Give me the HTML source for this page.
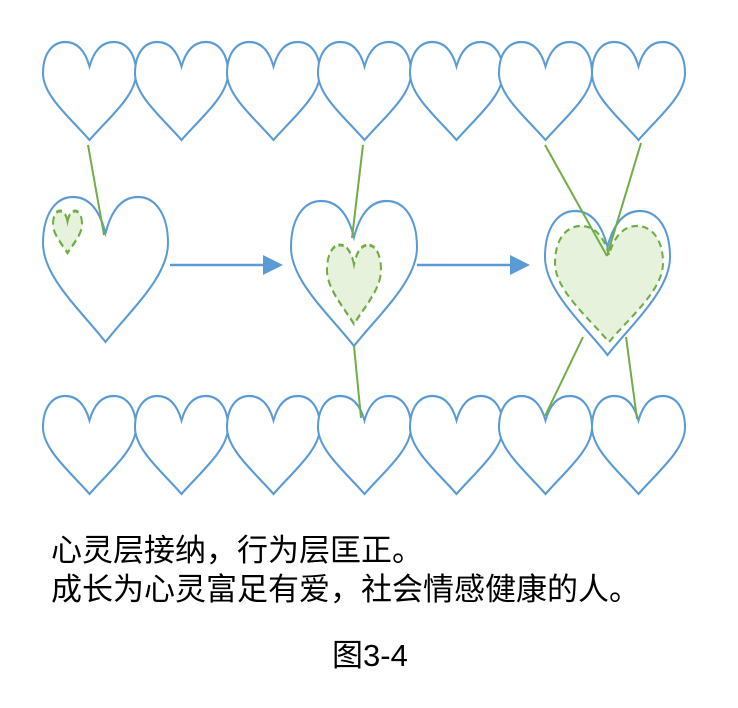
<!DOCTYPE html>
<html><head><meta charset="utf-8"><style>
body{margin:0;background:#fff;width:738px;height:708px;overflow:hidden;position:relative}
svg{position:absolute;left:0;top:0}
.t{position:absolute;font-family:"Liberation Sans","Noto Sans CJK SC",sans-serif;color:#000;white-space:nowrap;line-height:1}
</style></head><body>
<svg width="738" height="708" viewBox="0 0 738 708">
<defs>
<path id="h" d="M0.5,0.25 C0.45,0.08 0.36,0 0.24,0 C0.1,0 0,0.12 0,0.32 C0,0.55 0.3,0.78 0.5,1 C0.7,0.78 1,0.55 1,0.32 C1,0.12 0.9,0 0.76,0 C0.64,0 0.55,0.08 0.5,0.25 Z"/>
</defs>
<g fill="#fff" stroke="#5b9bd5">
<use href="#h" transform="translate(43,42) scale(93,98)" stroke-width="0.022"/>
<use href="#h" transform="translate(135,42) scale(93,98)" stroke-width="0.022"/>
<use href="#h" transform="translate(227,42) scale(93,98)" stroke-width="0.022"/>
<use href="#h" transform="translate(318,42) scale(93,98)" stroke-width="0.022"/>
<use href="#h" transform="translate(410,42) scale(93,98)" stroke-width="0.022"/>
<use href="#h" transform="translate(499,42) scale(93,98)" stroke-width="0.022"/>
<use href="#h" transform="translate(592,42) scale(93,98)" stroke-width="0.022"/>
<use href="#h" transform="translate(43,396) scale(93,98)" stroke-width="0.022"/>
<use href="#h" transform="translate(135,396) scale(93,98)" stroke-width="0.022"/>
<use href="#h" transform="translate(227,396) scale(93,98)" stroke-width="0.022"/>
<use href="#h" transform="translate(318,396) scale(93,98)" stroke-width="0.022"/>
<use href="#h" transform="translate(410,396) scale(93,98)" stroke-width="0.022"/>
<use href="#h" transform="translate(499,396) scale(93,98)" stroke-width="0.022"/>
<use href="#h" transform="translate(592,396) scale(93,98)" stroke-width="0.022"/>
<use href="#h" transform="translate(43,197) scale(125,145)" stroke-width="0.016"/>
<use href="#h" transform="translate(291,201) scale(126,145)" stroke-width="0.016"/>
<use href="#h" transform="translate(545,211) scale(125,144)" stroke-width="0.016"/>
</g>
<g fill="#e6f2dc" stroke="#70ad47" stroke-dasharray="0.1 0.06">
<use href="#h" transform="translate(53,211) scale(29,42)" stroke-width="0.07" stroke-dasharray="0.2 0.12"/>
<use href="#h" transform="translate(327,245) scale(54,79)" stroke-width="0.037"/>
<use href="#h" transform="translate(555,226) scale(108,116)" stroke-width="0.019" stroke-dasharray="0.06 0.04"/>
</g>
<g stroke="#70ad47" stroke-width="2">
<line x1="88" y1="145" x2="104" y2="235"/>
<line x1="363" y1="145" x2="352" y2="238"/>
<line x1="545" y1="145" x2="607" y2="256"/>
<line x1="641" y1="143" x2="607" y2="256"/>
<line x1="354" y1="346" x2="361" y2="418"/>
<line x1="583" y1="337" x2="545" y2="416"/>
<line x1="626" y1="337" x2="637" y2="419"/>
</g>
<g stroke="#5b9bd5" stroke-width="2.5" fill="#5b9bd5">
<line x1="170" y1="265" x2="265" y2="265"/>
<polygon points="263,255 283,265 263,275" stroke="none"/>
<line x1="417" y1="265" x2="512" y2="265"/>
<polygon points="510,255 530,265 510,275" stroke="none"/>
</g>
</svg>
<div class="t" style="left:51px;top:535px;font-size:31px">心灵层接纳，行为层匡正。</div>
<div class="t" style="left:51px;top:574px;font-size:31px">成长为心灵富足有爱，社会情感健康的人。</div>
<div class="t" style="left:332px;top:640px;font-size:31px">图3-4</div>
</body></html>
